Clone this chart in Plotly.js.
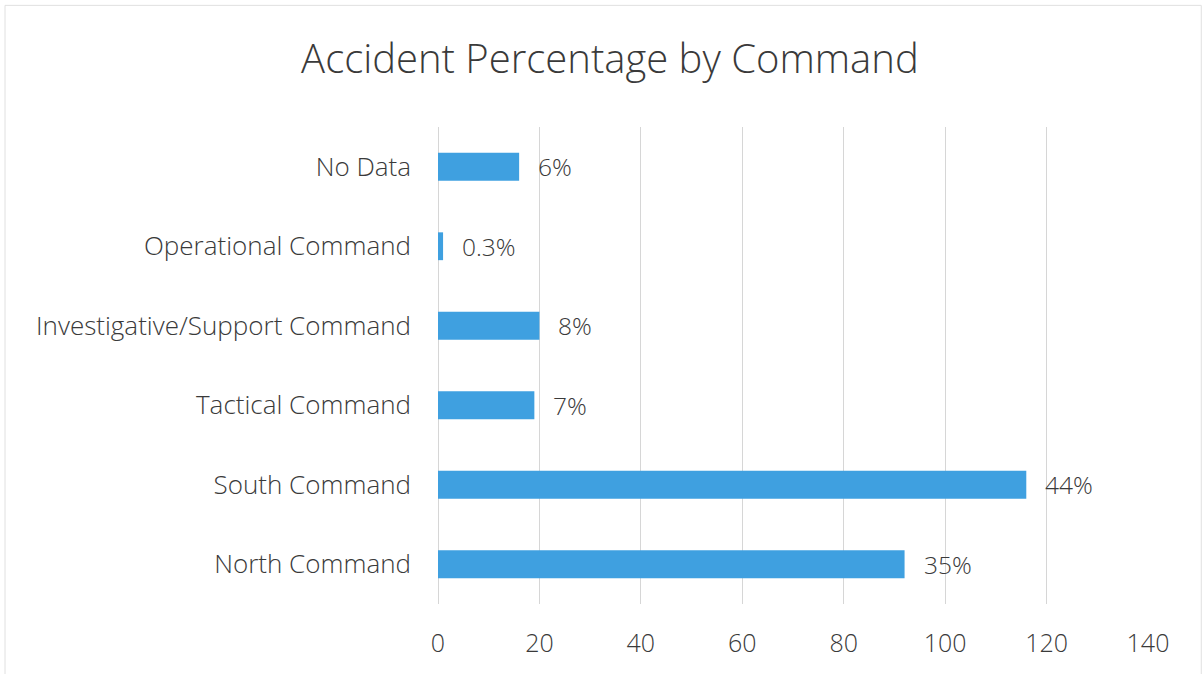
<!DOCTYPE html>
<html>
<head>
<meta charset="utf-8">
<script src="https://cdn.plot.ly/plotly-3.0.1.min.js"></script>
<style>html,body{margin:0;padding:0;background:#fff;}#chart{width:1203px;height:674px;}</style>
</head>
<body>
<div id="chart"></div>
<script>
const categories = ["No Data", "Operational Command", "Investigative/Support Command", "Tactical Command", "South Command", "North Command"];
const values = [16, 1, 20, 19, 116, 92];
const percentLabels = ["6%", "0.3%", "8%", "7%", "44%", "35%"];
const xTicks = [0, 20, 40, 60, 80, 100, 120, 140];

const FONT = '"Open Sans", sans-serif';

const trace = {
  type: 'bar',
  orientation: 'h',
  y: categories,
  x: values,
  width: 0.35,
  marker: {color: '#3fa0e0'},
  hoverinfo: 'none'
};

const annotations = categories.map((c, i) => ({
  x: values[i], y: c, xref: 'x', yref: 'y',
  text: percentLabels[i], showarrow: false,
  xanchor: 'left', xshift: 17,
  font: {family: FONT, size: 24.5, weight: 300, color: '#3a3a3a'}
}));

const layout = {
  width: 1203, height: 674,
  margin: {l: 438, r: 55, t: 127, b: 70},
  paper_bgcolor: '#ffffff', plot_bgcolor: '#ffffff',
  title: {
    text: 'Accident Percentage by Command',
    x: 0.507, xanchor: 'center', y: 0.912, yanchor: 'middle',
    font: {family: FONT, size: 40, weight: 300, color: '#3a3a3a'}
  },
  xaxis: {
    range: [0, 140], tickvals: xTicks, ticktext: xTicks.map(String),
    showgrid: true, gridcolor: '#d6d6d6', gridwidth: 1,
    zeroline: true, zerolinecolor: '#d6d6d6', showline: false,
    ticks: '', ticklabelstandoff: 22,
    tickfont: {family: FONT, size: 25, weight: 300, color: '#3a3a3a'},
    fixedrange: true
  },
  yaxis: {
    autorange: 'reversed', showgrid: false, zeroline: false, showline: false,
    ticks: '', ticklabelstandoff: 26,
    tickfont: {family: FONT, size: 26, weight: 300, color: '#3a3a3a'},
    fixedrange: true
  },
  annotations: annotations,
  shapes: [{
    type: 'rect', xref: 'paper', yref: 'paper',
    x0: -433/710, x1: 1.075, y0: -0.155, y1: 1.255,
    line: {color: '#e0e0e0', width: 1}
  }],
  showlegend: false, bargap: 0.65
};

Plotly.newPlot('chart', [trace], layout, {displayModeBar: false, staticPlot: true});
</script>
</body>
</html>
